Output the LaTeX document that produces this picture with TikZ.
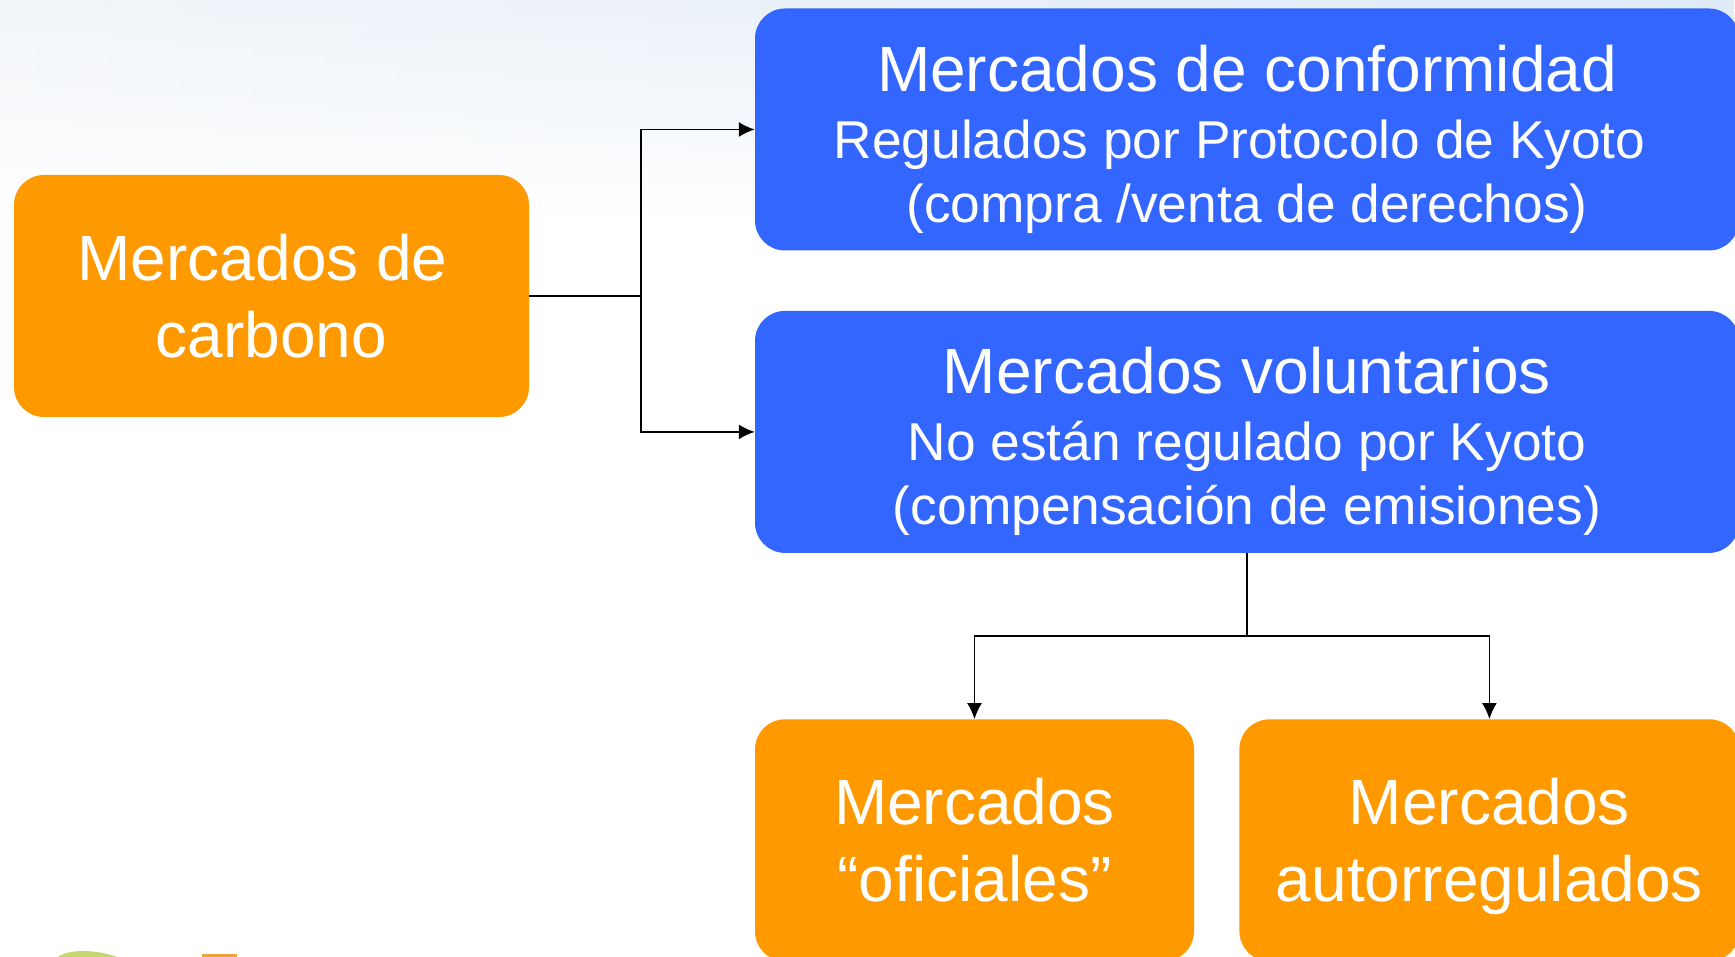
\documentclass[tikz,border=0pt]{standalone}
\usepackage{fontspec}
\setmainfont{Liberation Sans}
\usetikzlibrary{arrows.meta, positioning, fadings}
\definecolor{morange}{HTML}{FF9900}
\definecolor{mblue}{HTML}{3366FF}
\definecolor{mhaze}{HTML}{EEF2F7}
\definecolor{msky}{HTML}{D6E6F5}
\definecolor{mleaf}{HTML}{C6D770}
\definecolor{mlogo}{HTML}{E9A339}
\newcommand{\biglabel}{\fontsize{64}{77}\selectfont}
\newcommand{\sublabel}{\fontsize{53.3}{64}\selectfont}
\newcommand{\toplabel}{\rule{0pt}{55pt}}
\tikzstyle{market} = [rectangle, rounded corners=30pt, inner sep=0pt, minimum height=242pt, text depth=0pt, text=white, text centered, font=\biglabel]
\tikzstyle{summary} = [market, minimum width=515pt, fill=morange]
\tikzstyle{regime} = [market, minimum width=984pt, fill=mblue]
\tikzstyle{kind} = [market, fill=morange]
\tikzstyle{link} = [line width=1.7pt, -{Latex[length=16pt,width=15pt]}]
\tikzstyle{stem} = [line width=2pt]

\begin{document}
\begin{tikzpicture}[align=center,x=1pt,y=-1pt]
  \useasboundingbox (0,0) rectangle (1735,957);
  % sky and logo of the slide behind
  \shade [left color=mhaze, right color=msky, path fading=south] (0,-60) rectangle (1735,220);
  \fill [mleaf] (58,957) .. controls (68,949) and (95,949) .. (117,957);
  \fill [mlogo] (202,954) rectangle (237,957);
  \node (carbono) [summary] at (271.5,296) {Mercados de~~\\carbono};
  \node (conformidad) [regime] at (1247,129.5) {\toplabel Mercados de conformidad\\[-10pt]
    \sublabel Regulados por Protocolo de Kyoto~~\\[-13pt]
    \sublabel (compra /venta de derechos)};
  \node (voluntarios) [regime, below=60pt of conformidad] {\toplabel Mercados voluntarios\\[-10pt]
    \sublabel No están regulado por Kyoto\\[-13pt]
    \sublabel (compensación de emisiones)};
  \node (oficiales) [kind, minimum width=439pt, below=166pt of voluntarios.south west, anchor=north west] {Mercados\\“oficiales”};
  \node (autorregulados) [kind, minimum width=500pt, right=45pt of oficiales] {Mercados\\autorregulados};
  \coordinate [right=112pt of carbono] (fork);
  \coordinate [below=83pt of voluntarios] (split);
  \draw [stem] (carbono) -- (fork);
  \draw [link] (fork) |- (conformidad);
  \draw [link] (fork) |- (voluntarios);
  \draw [stem] (voluntarios) -- (split);
  \draw [link] (split) -| (oficiales);
  \draw [link] (split) -| (autorregulados);
\end{tikzpicture}
\end{document}
